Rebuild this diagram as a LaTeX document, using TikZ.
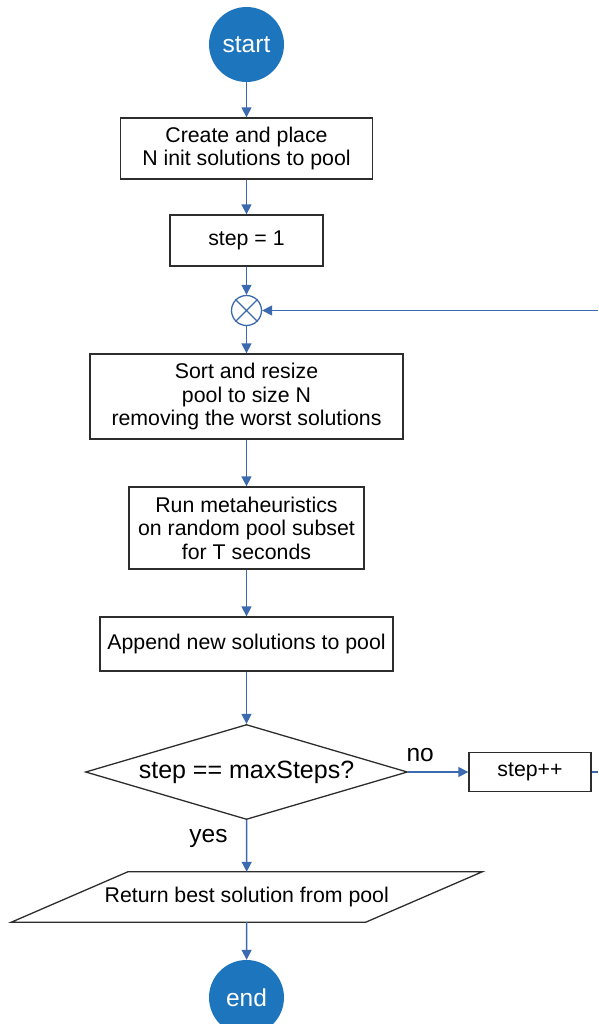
\documentclass[tikz,border=0pt]{standalone}
\usepackage{fontspec}
\setmainfont{Liberation Sans}
\usetikzlibrary{arrows.meta,shapes.geometric,calc}
\definecolor{flowblue}{RGB}{60,106,176}
\definecolor{termfill}{RGB}{29,117,189}
\definecolor{boxline}{RGB}{45,45,45}

\begin{document}
\begin{tikzpicture}[x=1pt,y=-1pt,
  proc/.style={draw=boxline, line width=1.3pt, fill=white, align=center, inner sep=0pt,
               font=\fontsize{21.3}{23.5}\selectfont},
  term/.style={circle, fill=termfill, text=white, minimum size=75pt, inner sep=0pt,
               font=\fontsize{24.5}{27}\selectfont},
  flowline/.style={draw=flowblue, line width=1.4pt},
  flow/.style={flowline, -{Triangle[length=10pt,width=10pt]}},
  lbl/.style={font=\fontsize{24.5}{27}\selectfont, inner sep=0pt}
]
\useasboundingbox (0,0) rectangle (598,1024);

% terminals, process boxes and the loop junction
\node[term] (start) at (246.5,44.5) {start};
\node[proc, minimum width=252pt, minimum height=61pt] (init) at (246.5,148.5)
  {Create and place\\N init solutions to pool};
\node[proc, minimum width=153pt, minimum height=51pt] (one) at (246.5,240.5) {step = 1};
\node[circle, draw=flowblue, line width=1.3pt, minimum size=30pt, inner sep=0pt] (join) at (246.5,310.5) {};
\draw[flowblue, line width=1.3pt] (join.45) -- (join.225) (join.135) -- (join.315);
\node[proc, minimum width=313pt, minimum height=85pt] (sort) at (246.5,396.5)
  {Sort and resize\\pool to size N\\removing the worst solutions};
\node[proc, minimum width=235pt, minimum height=82pt] (meta) at (246.5,528)
  {Run metaheuristics\\on random pool subset\\for T seconds};
\node[proc, minimum width=293pt, minimum height=54pt] (append) at (246.5,644)
  {Append new solutions to pool};
\node[diamond, draw=boxline, line width=1.3pt, fill=white, aspect=3.4, minimum width=322pt,
      minimum height=95pt, inner sep=0pt, font=\fontsize{25}{28}\selectfont] (test) at (246.5,772)
  {step == maxSteps?};
\node[proc, minimum width=122pt, minimum height=39pt] (inc) at (530,772) {step++};

% output parallelogram
\node[minimum width=354pt, minimum height=50pt, inner sep=0pt,
      font=\fontsize{21.3}{23.5}\selectfont] (ret) at (246.75,897) {};
\draw[draw=boxline, line width=1.3pt, fill=white]
  ($(ret.north west)+(58.25,0)$) -- ($(ret.north east)+(58.25,0)$) --
  ($(ret.south east)+(-58.25,0)$) -- ($(ret.south west)+(-58.25,0)$) -- cycle;
\node[font=\fontsize{21.3}{23.5}\selectfont, inner sep=0pt] at (ret.center) {Return best solution from pool};

\node[term] (end) at (246.5,997.5) {end};

% loop-back ends at the border
\coordinate (edgeA) at (598,772);
\coordinate (edgeB) at (598,310.5);

% connectors
\draw[flow] (start) -- (init);
\draw[flow] (init) -- (one);
\draw[flow] (one) -- (join);
\draw[flow] (join) -- (sort);
\draw[flow] (sort) -- (meta);
\draw[flow] (meta) -- (append);
\draw[flow] (append) -- (test);
\draw[flow] (test) -- (inc);
\draw[flowline] (inc) -- (edgeA);
\draw[flow] (edgeB) -- (join);
\draw[flow] (test) -- (ret);
\draw[flow] (ret) -- (end);

% branch labels
\node[lbl] at ($(test.east)+(12,-17)$) {no};
\node[lbl] at ($(test.south)+(-38,18)$) {yes};
\end{tikzpicture}
\end{document}
